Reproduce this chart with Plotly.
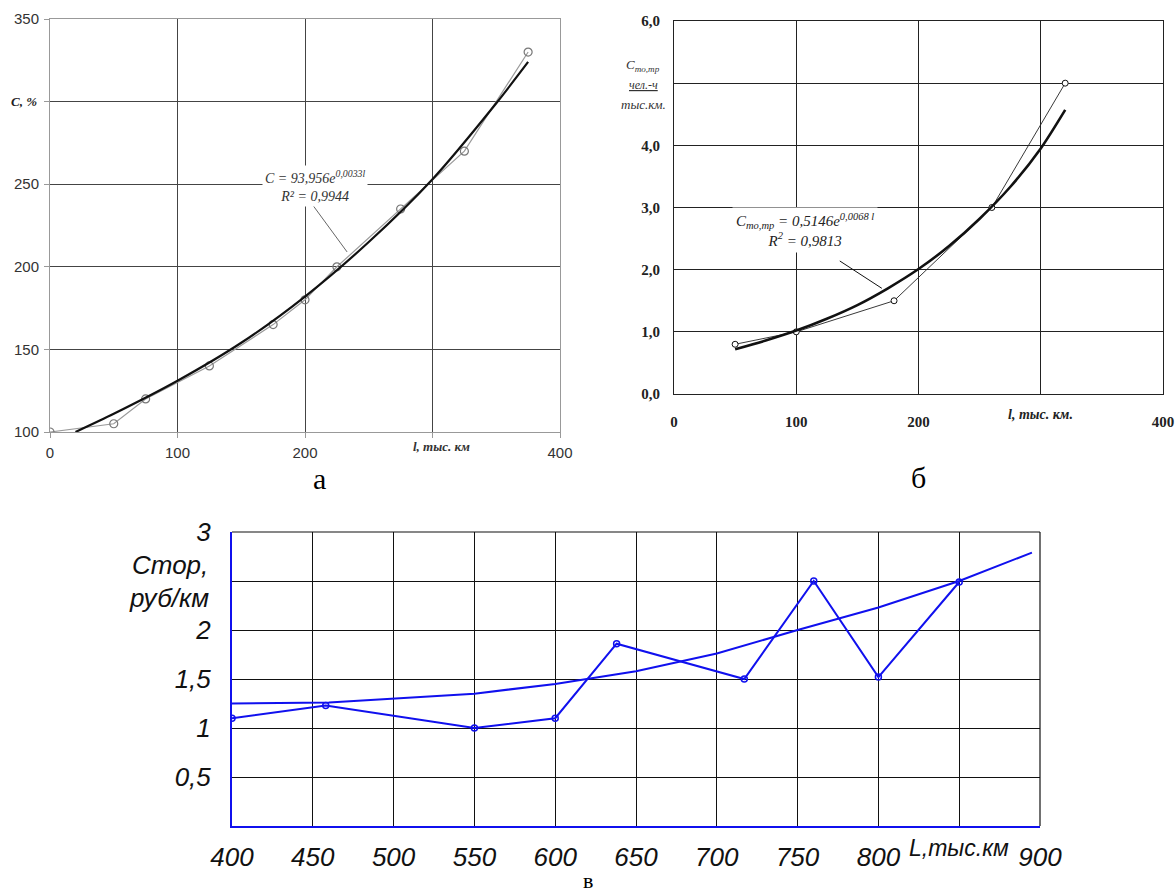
import plotly.graph_objects as go

# ---------------- data: chart "а" ----------------
a_l = [0, 50, 75, 125, 175, 200, 225, 275, 325, 375]
a_c = [100, 105, 120, 140, 165, 180, 200, 235, 270, 330]
a_trend_l = [20, 50, 100, 150, 200, 250, 300, 350, 375]
a_trend_c = [100, 111, 131, 154, 182, 215, 253, 299, 324]
a_xticks = [0, 100, 200, 300, 400]
a_xtext = ["0", "100", "200", "", "400"]
a_yticks = [100, 150, 200, 250, 300, 350]
a_ytext = ["100", "150", "200", "250", "", "350"]

# ---------------- data: chart "б" ----------------
b_l = [50, 100, 180, 260, 320]
b_c = [0.8, 1.0, 1.5, 3.0, 5.0]
b_trend_l = [50, 75, 100, 125, 150, 175, 200, 225, 250, 275, 300, 320]
b_trend_c = [0.72, 0.86, 1.02, 1.21, 1.43, 1.70, 2.01, 2.38, 2.82, 3.33, 3.95, 4.57]
b_xticks = [0, 100, 200, 300, 400]
b_xtext = ["0", "100", "200", "", "400"]
b_yticks = [0, 1, 2, 3, 4, 5, 6]
b_ytext = ["0,0", "1,0", "2,0", "3,0", "4,0", "", "6,0"]

# ---------------- data: chart "в" ----------------
v_l = [400, 458, 550, 600, 638, 717, 760, 800, 850]
v_c = [1.10, 1.23, 1.00, 1.10, 1.86, 1.50, 2.50, 1.52, 2.49]
v_trend_l = [400, 460, 550, 600, 650, 700, 750, 800, 850, 895]
v_trend_c = [1.25, 1.26, 1.35, 1.45, 1.58, 1.76, 2.00, 2.23, 2.50, 2.79]
v_xticks = [400, 450, 500, 550, 600, 650, 700, 750, 800, 850, 900]
v_xtext = ["400", "450", "500", "550", "600", "650", "700", "750", "800", "", "900"]
v_yticks = [0, 0.5, 1, 1.5, 2, 2.5, 3]
v_ytext = ["", "0,5", "1", "1,5", "2", "", "3"]

SANS = "Liberation Sans, Arial, sans-serif"
SERIF = "Liberation Serif, Times New Roman, serif"
NARROW = "Liberation Sans Narrow, Liberation Sans, sans-serif"
BLUE = "#1010ee"

W, H = 1175, 892
def px(x):
    return x / W
def py(y):
    return 1 - y / H

fig = go.Figure()

# chart а
fig.add_trace(go.Scatter(x=a_l, y=a_c, mode="lines+markers", xaxis="x", yaxis="y",
                         line=dict(color="#9a9a9a", width=1.2),
                         marker=dict(symbol="circle-open", size=8, color="#777",
                                     line=dict(width=1.2)),
                         showlegend=False))
fig.add_trace(go.Scatter(x=a_trend_l, y=a_trend_c, mode="lines", xaxis="x", yaxis="y",
                         line=dict(color="#111", width=2.2, shape="spline", smoothing=0.8),
                         showlegend=False))

# chart б
fig.add_trace(go.Scatter(x=b_l, y=b_c, mode="lines+markers", xaxis="x2", yaxis="y2",
                         line=dict(color="#222", width=0.9),
                         marker=dict(symbol="circle", size=6, color="white",
                                     line=dict(color="#111", width=1)),
                         showlegend=False))
fig.add_trace(go.Scatter(x=b_trend_l, y=b_trend_c, mode="lines", xaxis="x2", yaxis="y2",
                         line=dict(color="#111", width=2.6, shape="spline", smoothing=0.8),
                         showlegend=False))

# chart в
fig.add_trace(go.Scatter(x=v_trend_l, y=v_trend_c, mode="lines", xaxis="x3", yaxis="y3",
                         line=dict(color=BLUE, width=2),
                         showlegend=False))
fig.add_trace(go.Scatter(x=v_l, y=v_c, mode="lines+markers", xaxis="x3", yaxis="y3",
                         line=dict(color=BLUE, width=2),
                         marker=dict(symbol="circle-open", size=6, color=BLUE,
                                     line=dict(width=1.5)),
                         showlegend=False))

a_tick = dict(family=SANS, size=15, color="#333")
b_tick = dict(family=SERIF, size=15, color="#222", weight="bold")
v_tick = dict(family=NARROW, size=26, color="#111", style="italic")

fig.update_layout(
    width=W, height=H,
    margin=dict(l=0, r=0, t=0, b=0, pad=0, autoexpand=False),
    paper_bgcolor="white", plot_bgcolor="white",
    xaxis=dict(domain=[px(50), px(560)], range=[0, 400], anchor="y",
               tickmode="array", tickvals=a_xticks, ticktext=a_xtext,
               showgrid=True, gridcolor="#444", gridwidth=1, zeroline=False,
               showline=True, linecolor="#999", linewidth=1, mirror=True,
               ticks="outside", ticklen=5, tickcolor="#999",
               tickfont=a_tick, ticklabelstandoff=2, automargin=False),
    yaxis=dict(domain=[py(432), py(19)], range=[100, 350], anchor="x",
               tickmode="array", tickvals=a_yticks, ticktext=a_ytext,
               showgrid=True, gridcolor="#444", gridwidth=1, zeroline=False,
               showline=True, linecolor="#999", linewidth=1, mirror=True,
               ticks="outside", ticklen=5, tickcolor="#999",
               tickfont=a_tick, ticklabelstandoff=2, automargin=False),
    xaxis2=dict(domain=[px(674), px(1163)], range=[0, 400], anchor="y2",
                tickmode="array", tickvals=b_xticks, ticktext=b_xtext,
                showgrid=True, gridcolor="#222", gridwidth=1, zeroline=False,
                showline=True, linecolor="#222", linewidth=1, mirror=True,
                ticks="", tickfont=b_tick, ticklabelstandoff=14, automargin=False),
    yaxis2=dict(domain=[py(394), py(21)], range=[0, 6], anchor="x2",
                tickmode="array", tickvals=b_yticks, ticktext=b_ytext,
                showgrid=True, gridcolor="#222", gridwidth=1, zeroline=False,
                showline=True, linecolor="#222", linewidth=1, mirror=True,
                ticks="", tickfont=b_tick, ticklabelstandoff=10, automargin=False),
    xaxis3=dict(domain=[px(232), px(1040)], range=[400, 900], anchor="y3",
                tickmode="array", tickvals=v_xticks, ticktext=v_xtext,
                showgrid=True, gridcolor="#111", gridwidth=1, zeroline=False,
                showline=True, linecolor=BLUE, linewidth=2, mirror=False,
                ticks="", tickfont=v_tick, ticklabelstandoff=7, automargin=False),
    yaxis3=dict(domain=[py(826), py(532)], range=[0, 3], anchor="x3",
                tickmode="array", tickvals=v_yticks, ticktext=v_ytext,
                showgrid=True, gridcolor="#111", gridwidth=1, zeroline=False,
                showline=True, linecolor=BLUE, linewidth=2, mirror=False,
                ticks="", tickfont=v_tick, ticklabelstandoff=14, automargin=False),
)

shapes = [
    # leader lines for the trend equations
    dict(type="line", xref="x", yref="y", x0=205, y0=238.5, x1=233, y1=209,
         line=dict(color="#666", width=1)),
    dict(type="line", xref="x2", yref="y2", x0=135.6, y0=2.14, x1=170, y1=1.70,
         line=dict(color="#111", width=1)),
    # black top / right border of chart в
    dict(type="line", xref="x3 domain", yref="y3 domain", x0=0, y0=1, x1=1, y1=1,
         line=dict(color="#111", width=1.2)),
    dict(type="line", xref="x3 domain", yref="y3 domain", x0=1, y0=0, x1=1, y1=1,
         line=dict(color="#111", width=1.2)),
]
fig.update_layout(shapes=shapes)

ann = []
# chart а texts
ann.append(dict(xref="x", yref="y", x=208, y=249, xanchor="center", yanchor="middle",
                text="C = 93,956e<sup>0,0033l</sup><br>R² = 0,9944", showarrow=False,
                bgcolor="white", borderpad=2,
                font=dict(family=SERIF, size=14, color="#333", style="italic")))
ann.append(dict(xref="paper", yref="y", x=px(24), y=300, xanchor="center", yanchor="middle",
                text="C, %", showarrow=False,
                font=dict(family=SERIF, size=13, color="#222", style="italic", weight="bold")))
ann.append(dict(xref="x", yref="paper", x=307, y=py(447), xanchor="center", yanchor="middle",
                text="l, тыс. км", showarrow=False,
                font=dict(family=SERIF, size=13, color="#333", style="italic", weight="bold")))
ann.append(dict(xref="paper", yref="paper", x=px(319), y=py(478), xanchor="center", yanchor="middle",
                text="а", showarrow=False, font=dict(family=SERIF, size=30, color="#000")))

# chart б texts
ann.append(dict(xref="x2", yref="y2", x=107, y=2.64, xanchor="center", yanchor="middle",
                text="C<sub>то,тр</sub> = 0,5146e<sup>0,0068 l</sup><br>R<sup>2</sup> = 0,9813",
                showarrow=False, bgcolor="white", borderpad=3,
                font=dict(family=SERIF, size=15, color="#222", style="italic")))
ann.append(dict(xref="paper", yref="paper", x=px(643), y=py(65), xanchor="center", yanchor="middle",
                text="C<sub>то,тр</sub>", showarrow=False,
                font=dict(family=SERIF, size=13, color="#333", style="italic")))
ann.append(dict(xref="paper", yref="paper", x=px(643), y=py(85), xanchor="center", yanchor="middle",
                text="<u>чел.-ч</u>", showarrow=False,
                font=dict(family=SERIF, size=12, color="#333", style="italic")))
ann.append(dict(xref="paper", yref="paper", x=px(643), y=py(104), xanchor="center", yanchor="middle",
                text="тыс.км.", showarrow=False,
                font=dict(family=SERIF, size=13, color="#333", style="italic")))
ann.append(dict(xref="x2", yref="paper", x=300, y=py(415), xanchor="center", yanchor="middle",
                text="l, тыс. км.", showarrow=False,
                font=dict(family=SERIF, size=14, color="#222", style="italic", weight="bold")))
ann.append(dict(xref="paper", yref="paper", x=px(918), y=py(477), xanchor="center", yanchor="middle",
                text="б", showarrow=False, font=dict(family=SERIF, size=30, color="#000")))

# chart в texts
ann.append(dict(xref="paper", yref="paper", x=px(130), y=py(565), xanchor="left", yanchor="middle",
                text="Стор,", showarrow=False,
                font=dict(family=NARROW, size=26, color="#111", style="italic")))
ann.append(dict(xref="paper", yref="paper", x=px(127), y=py(598), xanchor="left", yanchor="middle",
                text="руб/км", showarrow=False,
                font=dict(family=NARROW, size=26, color="#111", style="italic")))
ann.append(dict(xref="x3", yref="paper", x=850, y=py(848), xanchor="center", yanchor="middle",
                text="L,тыс.км", showarrow=False,
                font=dict(family=NARROW, size=23, color="#111", style="italic")))
ann.append(dict(xref="paper", yref="paper", x=px(588), y=py(880), xanchor="center", yanchor="middle",
                text="в", showarrow=False, font=dict(family=SERIF, size=22, color="#000")))

fig.update_layout(annotations=ann)

fig.write_html("out.html", config={"displayModeBar": False},
               post_script="document.body.style.margin='0';document.body.style.padding='0';")
